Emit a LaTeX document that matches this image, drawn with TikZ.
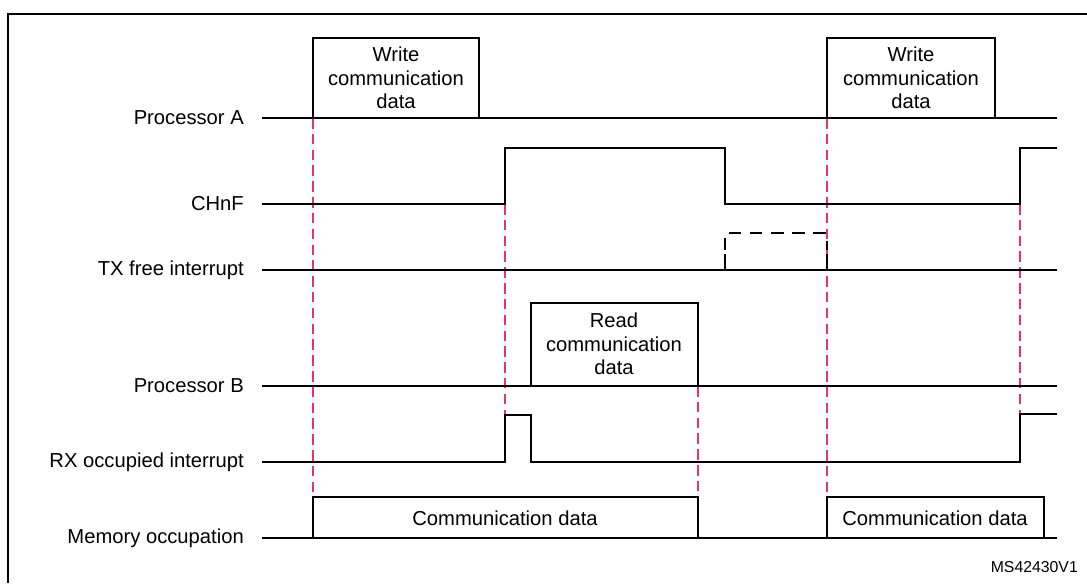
\documentclass[tikz,border=0pt]{standalone}
\usepackage{fontspec}
\setmainfont{Liberation Sans}
\begin{document}
\begin{tikzpicture}[x=0.02cm,y=-0.02cm,
  sig/.style={line width=1.1pt,black},
  pinkmark/.style={line width=0.8pt,color={rgb,255:red,228;green,50;blue,120},dash pattern=on 6pt off 3pt},
  lbl/.style={anchor=east,font=\fontsize{11.5}{13}\selectfont},
  box/.style={font=\fontsize{11.5}{13.5}\selectfont,align=center}]
\useasboundingbox (0,0) rectangle (1087,583);
\draw[line width=1pt] (8,583) -- (8,14) -- (1087,14);
% labels
\node[lbl] (la) at (250,118) {Processor A};
\node[lbl] (lc) at (250,204) {CHnF};
\node[lbl] (lt) at (250,270) {TX free interrupt};
\node[lbl] (lb) at (250,386) {Processor B};
\node[lbl] (lr) at (250,462) {RX occupied interrupt};
\node[lbl] (lm) at (250,538) {Memory occupation};
% marker lines
\draw[pinkmark] (313,118) -- (313,497);
\draw[pinkmark] (505,204) -- (505,414);
\draw[pinkmark] (698,386) -- (698,497);
\draw[pinkmark] (827,118) -- (827,497);
\draw[pinkmark] (1020,204) -- (1020,414);
% Processor A
\draw[sig] (262,118) -- (1057,118);
\draw[sig] (313,118) -- (313,38) -- (479,38) -- (479,118);
\node[box] (w1) at (396,78) {Write\\communication\\data};
\draw[sig] (827,118) -- (827,38) -- (995,38) -- (995,118);
\node[box] (w2) at (911,78) {Write\\communication\\data};
% CHnF
\draw[sig] (262,204) -- (505,204) -- (505,148) -- (725,148) -- (725,204) -- (1020,204) -- (1020,148) -- (1057,148);
% TX free
\draw[sig] (262,270) -- (1057,270);
\draw[sig] (725,270) -- (725,254);
\draw[sig] (827,270) -- (827,254);
\draw[sig,dash pattern=on 7pt off 5pt] (725,250) -- (725,233) -- (827,233) -- (827,250);
% Processor B
\draw[sig] (262,386) -- (1057,386);
\draw[sig] (531,386) -- (531,303) -- (698,303) -- (698,386);
\node[box] (rd) at (614,344) {Read\\communication\\data};
% RX occupied
\draw[sig] (262,462) -- (505,462) -- (505,415) -- (531,415) -- (531,462) -- (1020,462) -- (1020,414) -- (1057,414);
% Memory
\draw[sig] (262,538) -- (1057,538);
\draw[sig] (313,538) -- (313,497) -- (698,497) -- (698,538);
\node[box] (m1) at (505,518) {Communication data};
\draw[sig] (827,538) -- (827,497) -- (1044,497) -- (1044,538);
\node[box] (m2) at (935,518) {Communication data};
\node[anchor=east,font=\fontsize{9}{10}\selectfont] (id) at (1084,567) {MS42430V1};
\end{tikzpicture}
\end{document}
